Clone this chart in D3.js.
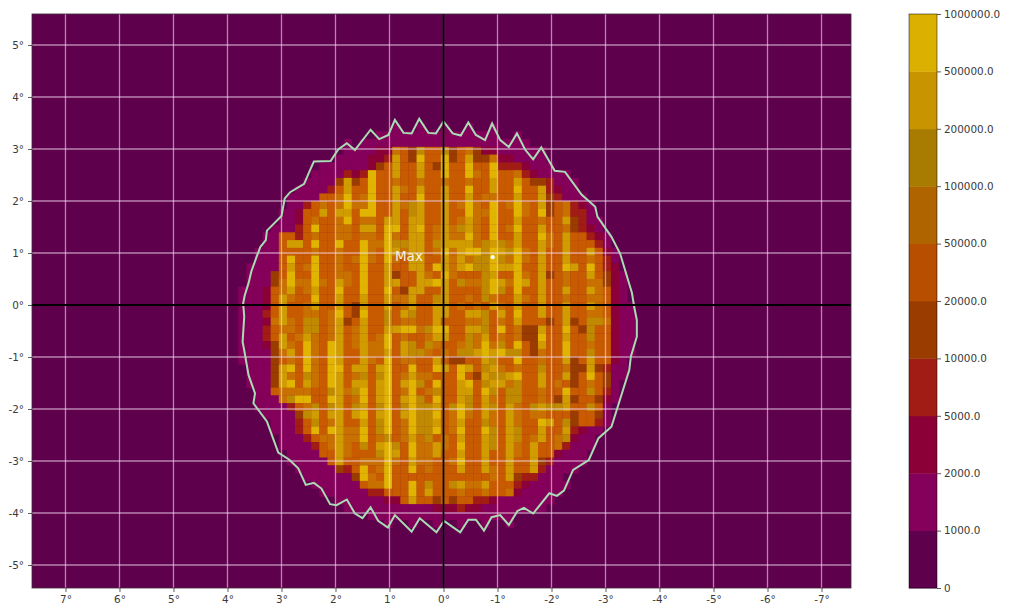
<!DOCTYPE html>
<html><head><meta charset="utf-8">
<script src="https://cdn.jsdelivr.net/npm/d3@7"></script>
<style>html,body{margin:0;padding:0;background:#fff}svg{display:block}text{font-family:"DejaVu Sans",sans-serif}</style>
</head><body><svg id="c" width="1010" height="610"></svg>
<script>
const levels=[0,1000,2000,5000,10000,20000,50000,100000,200000,500000,1000000];
const bandColors=["#5f004c","#85005a","#8c0038","#a01c14","#9a3c00","#c85a00","#c87000","#c08a00","#d09c00","#e0b400"];
const levelLabels=["0","1000.0","2000.0","5000.0","10000.0","20000.0","50000.0","100000.0","200000.0","500000.0","1000000.0"];
const xTicks=[7,6,5,4,3,2,1,0,-1,-2,-3,-4,-5,-6,-7];
const yTicks=[5,4,3,2,1,0,-1,-2,-3,-4,-5];
const maxPoint=[-0.91,0.92];
const rowStart=[19,17,13,13,12,10,9,8,7,6,6,5,5,4,3,3,2,2,1,1,1,0,0,0,0,0,0,0,0,0,0,1,1,1,2,2,2,3,4,4,5,5,6,6,7,8,9,10,12,13,16,18];
const rowCodes=[
"1001001001001",
"111111111111111001",
"10 111111111111111111111",
"111122 65475574564 22111111",
"111122 3 8549559458446 221111",
"111111 245 8558549559559 333 2 111",
"1111 323955855855 9559 659 556 32 1111",
"1111 4845 955 655 655 655 655 855 854 43 111",
"1111 3 5855 955 865 855 855 955 855 955 832 11",
"1111 556 956 955 855 955 855 856 655 855 843 111",
"11 35656 966 955 867 855 856 965 956 965 845 632 1",
"112 55858 859 955 857 855 855 966 955 965 945 633 1",
"112 56556 956 658 858 855 856 865 955 855 655 843 11",
"111 3 59556 658 859 958 956 867 865 956 955 855 643 2 1",
"11 553 56556 656 659 658 856 866 965 955 855 965 855 32 1",
"11 588 59559 559 669 778 857 888 867 876 855 865 855 53 1",
"111 555 56556 559 659 868 856 968 997 987 965 855 855 852 1",
"111 595 59556 569 659 658 855 868 677 976 965 855 855 653 1",
"1111 585 69556 559 558 558 859 868 977 988 955 855 985 953 2",
"111 4 595 59556 659 558 455 865 965 557 855 965 845 655 854 21",
"111 4 696 69658 659 558 855 889 857 667 986 985 855 655 664 21",
"1112 5685 68559 559 559 548 855 855 557 975 955 855 855 865 21",
"1112 5865 59558 558 558 668 557 855 657 655 865 855 655 665 21",
"1112 5855 68558 548 558 568 558 856 565 865 855 855 855 865 211",
"1113 5855 66569 549 557 587 558 855 887 585 955 855 855 665 211",
"1112 6865 77568 458 557 566 558 555 667 565 855 545 845 776 211",
"1113 5665 77568 568 558 899 679 955 887 595 644 855 954 755 211",
"1113 5856 86568 568 569 565 568 855 768 565 644 955 855 755 211",
"1112 4865 96598 568 669 587 576 556 769 675 954 855 955 655 211",
"1111 4685 96598 558 668 587 765 657 789 897 754 655 955 755 211",
"1111 4565 96598 558 659 566 558 544 558 755 955 655 845 855 21",
"111 4895 96599 588 589 559 559 859 857 865 655 755 644 843 11",
"111 4865 76598 567 579 568 665 559 548 778 955 855 845 954 11",
"111 4895 86598 588 589 589 759 558 957 886 755 856 545 654 1",
"11 5666 65578 679 589 569 567 558 859 757 755 655 955 753 1",
"111 679 95598 569 589 589 759 558 758 657 755 654 845 542 1",
"1111 35 67578 578 579 579 778 579 758 758 657 877 855 751",
"1111 4 78588 589 589 589 779 569 658 658 656 655 545 541",
"111 3 57568 558 579 569 778 568 557 658 655 985 745 531",
"111 3 59598 669 579 569 779 569 559 758 755 855 832 11",
"111 35668 669 567 568 675 658 558 758 756 856 7211",
"1111 3 568 657 589 759 668 659 558 758 658 556 3111",
"1111 558 655 579 859 668 558 558 558 658 552 111",
"11111 58 556 669 658 665 569 558 558 558 431 111",
"11111 43 59 569 559 565 558 558 658 558 31 111",
"111111 49 659 555 555 555 555 658 433 111",
"111111 5 669 559 575 578 668 555 321 1111",
"111111 33 555 9585 556 556 556 21 1111",
"11111122 58554 5455 332 1111111",
"1111111111122 2322 11 111111",
"111111111111111111",
"1001001001001001"
];
const contourX=[3.71,3.68,3.61,3.56,3.46,3.39,3.29,3.27,3.00,2.94,2.84,2.58,2.47,2.40,2.09,1.95,1.79,1.64,1.35,1.19,1.02,0.90,0.74,0.59,0.45,0.28,0.14,0.00,-0.17,-0.32,-0.46,-0.60,-0.77,-0.90,-1.05,-1.21,-1.36,-1.51,-1.66,-1.81,-2.06,-2.25,-2.56,-2.81,-2.85,-3.11,-3.27,-3.49,-3.53,-3.58,-3.58,-3.47,-3.44,-3.11,-2.87,-2.69,-2.40,-2.23,-2.10,-1.96,-1.66,-1.49,-1.37,-1.21,-1.05,-0.89,-0.75,-0.60,-0.46,-0.31,-0.01,0.13,0.44,0.59,0.90,1.03,1.21,1.35,1.50,1.64,1.79,1.98,2.10,2.26,2.40,2.55,2.69,2.86,3.06,3.27,3.52,3.49,3.61,3.69,3.72,3.69];
const contourY=[0.03,0.19,0.42,0.64,0.93,1.12,1.25,1.43,1.71,2.05,2.17,2.33,2.60,2.76,2.77,2.99,3.11,2.98,3.37,3.19,3.27,3.56,3.31,3.30,3.58,3.31,3.30,3.53,3.30,3.26,3.51,3.27,3.17,3.49,3.17,3.04,3.30,2.99,2.80,3.03,2.58,2.56,2.12,1.89,1.70,1.31,0.99,0.23,-0.03,-0.29,-0.61,-0.99,-1.25,-2.34,-2.56,-2.98,-3.17,-3.57,-3.67,-3.62,-4.01,-3.90,-3.96,-4.23,-4.04,-4.08,-4.34,-4.13,-4.13,-4.37,-4.15,-4.37,-4.10,-4.36,-4.04,-4.28,-4.15,-3.89,-4.10,-4.01,-3.74,-3.85,-3.83,-3.53,-3.42,-3.46,-3.14,-2.97,-2.84,-2.24,-1.89,-1.70,-1.35,-0.87,-0.71,-0.22];
const gridLeftDeg=3.80, gridTopDeg=3.49, cellW=0.15, cellH=0.1494;

const svg=d3.select("#c");
const x=d3.scaleLinear().domain([7.62,-7.546]).range([32,851]);
const y=d3.scaleLinear().domain([5.596,-5.442]).range([14,588]);
const color=d3.scaleThreshold().domain(levels.slice(1)).range(bandColors);
const plot=svg.append("g").attr("class","plot").style("filter","blur(0.6px)");
plot.append("rect").attr("x",x.range()[0]).attr("y",y.range()[0]).attr("width",x.range()[1]-x.range()[0]).attr("height",y.range()[1]-y.range()[0]).attr("fill",color(0));
const cells=[];
rowCodes.forEach((s,r)=>{[...s.replace(/ /g,"")].forEach((ch,k)=>{const v=levels[+ch];if(v>0)cells.push({col:rowStart[r]+k,row:r,v});});});
plot.selectAll("rect.cell").data(cells).join("rect").attr("class","cell")
 .attr("x",d=>x(gridLeftDeg-d.col*cellW)).attr("y",d=>y(gridTopDeg-d.row*cellH))
 .attr("width",x(0)-x(cellW)+0.3).attr("height",y(0)-y(cellH)+0.3).attr("fill",d=>color(d.v));
plot.selectAll("line.gx").data(xTicks).join("line").attr("class","gx").attr("x1",d=>x(d)).attr("x2",d=>x(d)).attr("y1",14).attr("y2",588).attr("stroke","#f4dcf0").attr("stroke-opacity",0.6).attr("stroke-width",1.3);
plot.selectAll("line.gy").data(yTicks).join("line").attr("class","gy").attr("y1",d=>y(d)).attr("y2",d=>y(d)).attr("x1",32).attr("x2",851).attr("stroke","#f4dcf0").attr("stroke-opacity",0.6).attr("stroke-width",1.3);
const line=d3.line().x((d,i)=>x(contourX[i])).y((d,i)=>y(contourY[i])).curve(d3.curveLinearClosed);
plot.append("path").attr("d",line(contourX)).attr("fill","none").attr("stroke","#a9dcb4").attr("stroke-width",2);
plot.append("line").attr("x1",x(0)).attr("x2",x(0)).attr("y1",14).attr("y2",588).attr("stroke","#000").attr("stroke-width",1.8);
plot.append("line").attr("y1",y(0)).attr("y2",y(0)).attr("x1",32).attr("x2",851).attr("stroke","#000").attr("stroke-width",1.8);
plot.append("circle").attr("cx",x(maxPoint[0])).attr("cy",y(maxPoint[1])).attr("r",2.1).attr("fill","#fff");
svg.append("text").attr("x",x(0.64)).attr("y",y(maxPoint[1])+3.6).attr("text-anchor","middle").attr("fill","#f5f0e0").attr("font-size",13.5).text("Max");
svg.append("rect").attr("x",32).attr("y",14).attr("width",819).attr("height",574).attr("fill","none").attr("stroke","#3a2a3a").attr("stroke-width",0.8);
const ax=svg.append("g").attr("transform","translate(0,588)").call(d3.axisBottom(x).tickValues(xTicks).tickFormat(d=>d+"°").tickSize(4).tickPadding(4));
const ay=svg.append("g").attr("transform","translate(32,0)").call(d3.axisLeft(y).tickValues(yTicks).tickFormat(d=>d+"°").tickSize(4).tickPadding(4));
[ax,ay].forEach(a=>{a.select(".domain").remove();a.selectAll("text").attr("font-size",10.4).attr("fill","#3a3a3a").style("font-family",'"DejaVu Sans",sans-serif');a.selectAll("line").attr("stroke","#333").attr("stroke-width",0.8);});
const cbY=d3.scalePoint().domain(levels).range([588,14]);
const cb=svg.append("g");
const cbColors=["#5f004c","#85005a","#8c0038","#a01c14","#9a3c00","#b84e00","#b06400","#a87c00","#c89400","#dcb000"];
cb.selectAll("rect").data(cbColors).join("rect").attr("x",909).attr("width",28)
 .attr("y",(d,i)=>cbY(levels[i+1])).attr("height",(d,i)=>cbY(levels[i])-cbY(levels[i+1])+0.4).attr("fill",d=>d);
cb.append("rect").attr("x",909).attr("y",14).attr("width",28).attr("height",574).attr("fill","none").attr("stroke","#000").attr("stroke-opacity",0.55).attr("stroke-width",0.9);
const cax=svg.append("g").attr("transform","translate(937,0)").call(d3.axisRight(cbY).tickFormat((d,i)=>levelLabels[i]).tickSize(4).tickPadding(3));
cax.select(".domain").remove();
cax.selectAll("text").attr("font-size",10.4).attr("fill","#3a3a3a").style("font-family",'"DejaVu Sans",sans-serif');
cax.selectAll("line").attr("stroke","#333").attr("stroke-width",0.8);
</script></body></html>
